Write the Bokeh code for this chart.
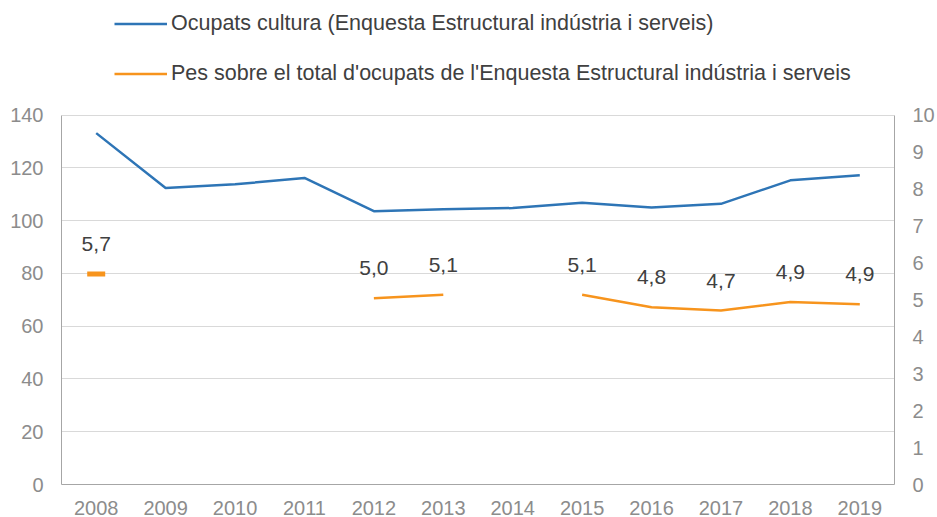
from bokeh.plotting import figure
from bokeh.models import Range1d, LinearAxis, Legend, LegendItem, ColumnDataSource, FixedTicker
from bokeh.embed import file_html
from bokeh.resources import INLINE
from bokeh.core.properties import value

years = ["2008", "2009", "2010", "2011", "2012", "2013", "2014", "2015", "2016", "2017", "2018", "2019"]
ocupats = [133.2, 112.4, 113.8, 116.2, 103.6, 104.3, 104.8, 106.8, 105.0, 106.4, 115.3, 117.2]
pes = [5.70, None, None, None, 5.04, 5.14, None, 5.14, 4.80, 4.71, 4.94, 4.88]
left_ticks = [0, 20, 40, 60, 80, 100, 120, 140]
right_ticks = [0, 1, 2, 3, 4, 5, 6, 7, 8, 9, 10]

BLUE = "#2E75B6"
ORANGE = "#F7941D"
GRAY = "#8C8C8C"
FONT = "Liberation Sans"

W, H = 937, 517
BOTTOM = 33
FRAME_H = H - BOTTOM
PX_PER_UNIT = 369.3 / 140.0          # plot-area scale of the reference
Y_END = FRAME_H / PX_PER_UNIT        # room above 140 for the legend
R_END = Y_END * 10.0 / 140.0

p = figure(x_range=years, y_range=Range1d(0, Y_END), width=W, height=H,
           output_backend="svg", toolbar_location=None,
           min_border_left=61, min_border_right=41, min_border_top=0, min_border_bottom=BOTTOM)
p.outline_line_color = None
p.background_fill_color = "white"
p.border_fill_color = "white"
p.extra_y_ranges = {"pes": Range1d(0, R_END)}

p.xgrid.grid_line_color = None
p.ygrid.grid_line_color = "#D9D9D9"
p.ygrid.grid_line_width = 1
p.yaxis.ticker = FixedTicker(ticks=left_ticks)
p.yaxis.bounds = (0, 140)

for ax in [p.xaxis[0], p.yaxis[0]]:
    ax.major_tick_line_color = None
    ax.minor_tick_line_color = None
    ax.axis_line_color = "#A6A6A6"
    ax.major_label_text_color = GRAY
    ax.major_label_text_font = FONT
p.yaxis.major_label_text_font_size = "20px"
p.xaxis.major_label_text_font_size = "20px"
p.xaxis.major_label_standoff = 10
p.yaxis.major_label_standoff = 12

ax2 = LinearAxis(y_range_name="pes", ticker=FixedTicker(ticks=right_ticks), bounds=(0, 10))
ax2.major_tick_line_color = None
ax2.minor_tick_line_color = None
ax2.axis_line_color = "#A6A6A6"
ax2.major_label_text_color = GRAY
ax2.major_label_text_font = FONT
ax2.major_label_text_font_size = "20px"
ax2.major_label_standoff = 12
p.add_layout(ax2, "right")

src = ColumnDataSource(dict(x=years, y=ocupats,
                            p=[float("nan") if v is None else v for v in pes]))
r1 = p.line("x", "y", source=src, line_color=BLUE, line_width=2.5)
r2 = p.line("x", "p", source=src, line_color=ORANGE, line_width=2.5, y_range_name="pes")

# isolated single point (2008) shown as short dash
single_x = [years[i] for i in range(len(pes)) if pes[i] is not None and
            (i == 0 or pes[i-1] is None) and (i == len(pes)-1 or pes[i+1] is None)]
single_y = [pes[years.index(x)] for x in single_x]
p.scatter(single_x, single_y, marker="dash", size=18, line_color=ORANGE, line_width=5,
          y_range_name="pes")

lx = [years[i] for i in range(len(pes)) if pes[i] is not None]
ly = [pes[i] for i in range(len(pes)) if pes[i] is not None]
lt = [f"{v:.1f}".replace(".", ",") for v in ly]
p.text(lx, ly, text=lt, y_range_name="pes", y_offset=-23, text_align="center",
       text_baseline="bottom", text_color="#404040", text_font=value(FONT),
       text_font_size="21px")

legend = Legend(items=[LegendItem(label="Ocupats cultura (Enquesta Estructural indústria i serveis)", renderers=[r1]),
                       LegendItem(label="Pes sobre el total d'ocupats de l'Enquesta Estructural indústria i serveis", renderers=[r2])],
                location=(53, FRAME_H - 86), orientation="vertical", glyph_width=53, glyph_height=25,
                label_height=25, spacing=25, padding=0, margin=0,
                label_text_font=FONT, label_text_font_size="21.5px", label_text_color="#404040",
                label_standoff=4, border_line_color=None, background_fill_alpha=0)
p.add_layout(legend, "center")

open("out.html", "w").write(file_html(p, INLINE))
